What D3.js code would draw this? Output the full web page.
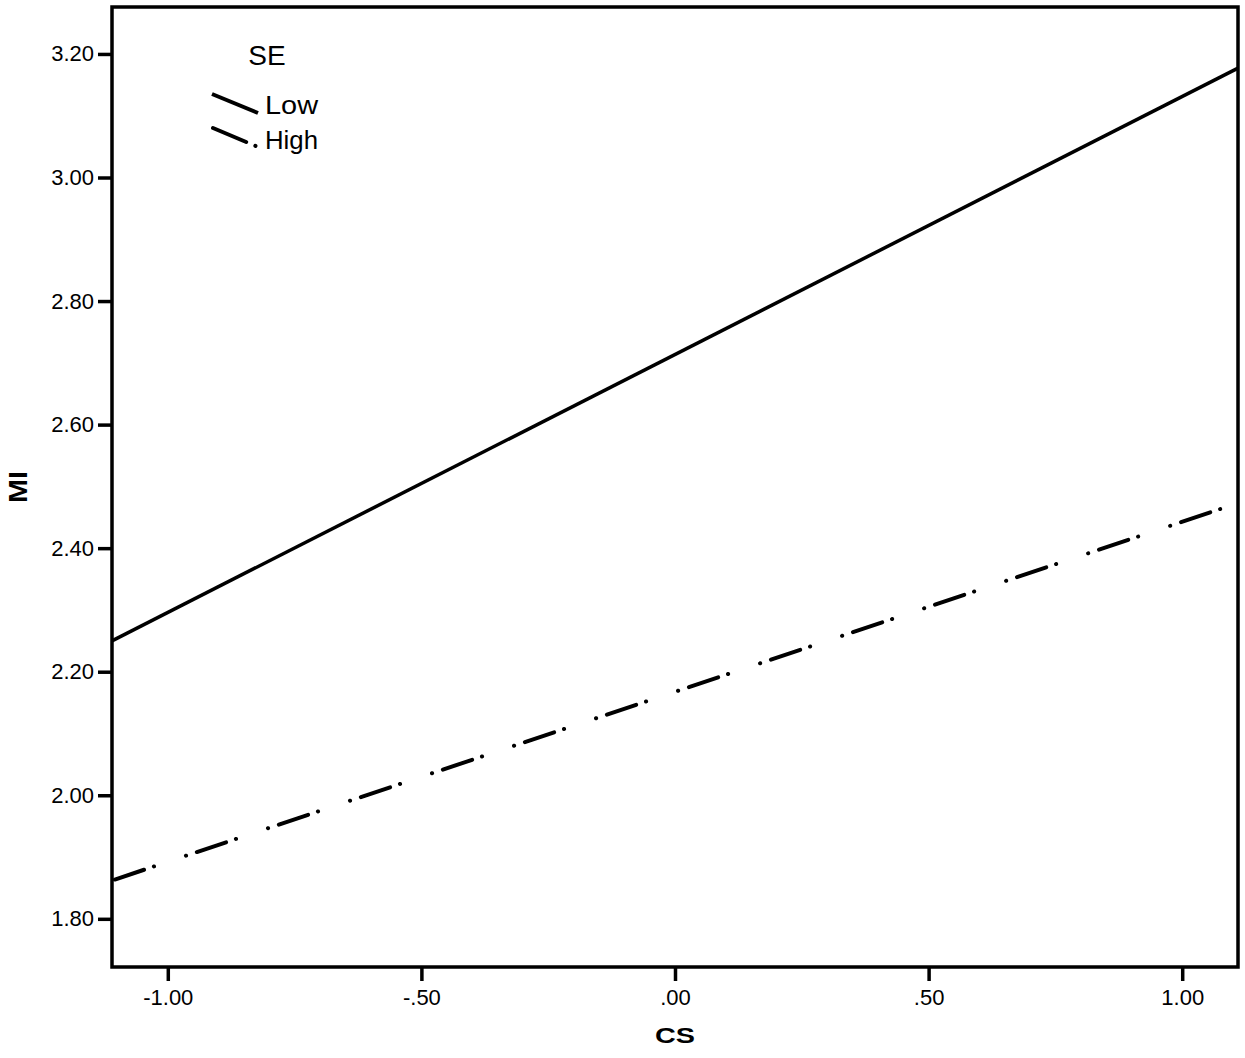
<!DOCTYPE html>
<html><head><meta charset="utf-8">
<script src="https://cdn.jsdelivr.net/npm/d3@7"></script>
<style>body{margin:0;background:#fff;} text{font-family:"Liberation Sans",Arial,sans-serif;}</style>
</head><body>
<svg id="c" width="1245" height="1058"></svg>
<script>
const xDomain = [-1.11, 1.11];
const yDomain = [1.722, 3.276];
const xTicks = [-1.00, -0.50, 0.00, 0.50, 1.00];
const xTickLabels = ["-1.00", "-.50", ".00", ".50", "1.00"];
const yTicks = [1.80, 2.00, 2.20, 2.40, 2.60, 2.80, 3.00, 3.20];
const yTickLabels = ["1.80", "2.00", "2.20", "2.40", "2.60", "2.80", "3.00", "3.20"];
const seriesNames = ["Low", "High"];
const csValues = [-1.11, 1.11];
const lowValues = [2.250, 3.177];
const highValues = [1.862, 2.473];

const svg = d3.select("#c");
const m = {l:112, r:7, t:7, b:91};
const W = 1245, H = 1058;
const x = d3.scaleLinear().domain(xDomain).range([m.l, W - m.r]);
const y = d3.scaleLinear().domain(yDomain).range([H - m.b, m.t]);

// frame
svg.append("rect").attr("x", m.l).attr("y", m.t)
  .attr("width", W - m.r - m.l).attr("height", H - m.b - m.t)
  .attr("fill", "none").attr("stroke", "#000").attr("stroke-width", 3.5);

const xAxis = d3.axisBottom(x).tickValues(xTicks).tickSize(14).tickPadding(8)
  .tickFormat((d,i) => xTickLabels[i]);
const gx = svg.append("g").attr("transform", `translate(0,${H - m.b})`).call(xAxis);
gx.select(".domain").remove();
gx.selectAll(".tick line").attr("stroke", "#000").attr("stroke-width", 3.5);
gx.selectAll(".tick text").attr("font-size", 22).attr("fill", "#000");

const yAxis = d3.axisLeft(y).tickValues(yTicks).tickSize(14).tickPadding(4)
  .tickFormat((d,i) => yTickLabels[i]);
const gy = svg.append("g").attr("transform", `translate(${m.l},0)`).call(yAxis);
gy.select(".domain").remove();
gy.selectAll(".tick line").attr("stroke", "#000").attr("stroke-width", 3.5);
gy.selectAll(".tick text").attr("font-size", 22).attr("fill", "#000");

// axis titles
svg.append("text").attr("x", (x(xDomain[0]) + x(xDomain[1]))/2).attr("y", 1043)
  .attr("text-anchor", "middle").attr("font-size", 22).attr("font-weight", "bold")
  .attr("textLength", 40).attr("lengthAdjust", "spacingAndGlyphs").text("CS");
svg.append("text").attr("transform", `translate(27,${(y(yDomain[0]) + y(yDomain[1]))/2}) rotate(-90)`)
  .attr("text-anchor", "middle").attr("font-size", 26).attr("font-weight", "bold")
  .attr("textLength", 32).attr("lengthAdjust", "spacingAndGlyphs").text("MI");

const line = d3.line().x(d => x(d[0])).y(d => y(d[1]));
svg.append("path").datum(csValues.map((c,i) => [c, lowValues[i]]))
  .attr("d", line).attr("fill", "none").attr("stroke", "#000").attr("stroke-width", 3.5);
svg.append("path").datum(csValues.map((c,i) => [c, highValues[i]]))
  .attr("d", line).attr("fill", "none").attr("stroke", "#000").attr("stroke-width", 4)
  .attr("stroke-linecap", "round")
  .attr("stroke-dasharray", "0.1,11.4,30.8,10.4,0.1,33.7")
  .attr("stroke-dashoffset", 8.5);

// legend
svg.append("text").attr("x", 267).attr("y", 65).attr("text-anchor", "middle")
  .attr("font-size", 28).text("SE");
svg.append("line").attr("x1", 212).attr("y1", 94).attr("x2", 258).attr("y2", 113)
  .attr("stroke", "#000").attr("stroke-width", 4);
svg.append("text").attr("x", 265).attr("y", 114).attr("font-size", 25)
  .attr("textLength", 53).attr("lengthAdjust", "spacingAndGlyphs").text(seriesNames[0]);
svg.append("line").attr("x1", 213).attr("y1", 128).attr("x2", 258).attr("y2", 147)
  .attr("stroke", "#000").attr("stroke-width", 4).attr("stroke-linecap", "round")
  .attr("stroke-dasharray", "36,10,0.1,100");
svg.append("text").attr("x", 265).attr("y", 149).attr("font-size", 25)
  .attr("textLength", 53).attr("lengthAdjust", "spacingAndGlyphs").text(seriesNames[1]);
</script>
</body></html>
